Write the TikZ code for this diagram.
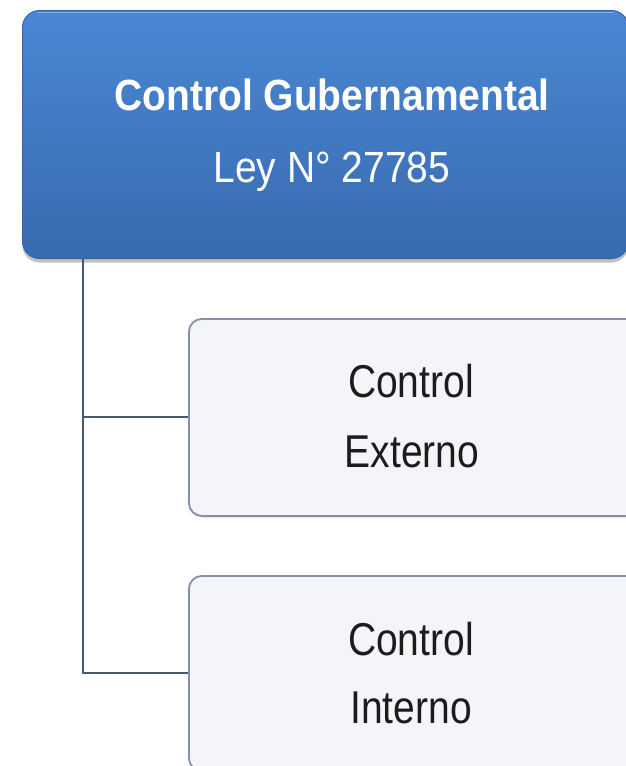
\documentclass[tikz,border=0pt]{standalone}
\usepackage{fontspec}
\setmainfont{Liberation Sans}
\usetikzlibrary{shadows}
\definecolor{govtop}{HTML}{4A88D4}
\definecolor{govbot}{HTML}{386AAE}
\definecolor{govedge}{HTML}{3766A4}
\definecolor{govrim}{HTML}{7FAEE6}
\definecolor{subfill}{HTML}{F3F5F8}
\definecolor{subedge}{HTML}{8790A6}
\definecolor{connclr}{HTML}{4A5A6E}
\definecolor{subtext}{HTML}{1C1C1C}
\newcommand{\tallA}[1]{\scalebox{1}[1.12]{#1}}
\newcommand{\tallB}[1]{\scalebox{1}[1.18]{#1}}
\begin{document}
\begin{tikzpicture}[x=1pt,y=-1pt,
  govbox/.style={rectangle, rounded corners=17pt, inner sep=0pt,
    top color=govtop, bottom color=govbot, draw=govedge, line width=1pt,
    drop shadow={shadow xshift=0pt, shadow yshift=-4pt, opacity=0.35, fill=black!70}},
  subbox/.style={rectangle, rounded corners=13pt, inner sep=0pt,
    fill=subfill, draw=subedge, line width=1.8pt,
    drop shadow={shadow xshift=0pt, shadow yshift=-2pt, opacity=0.15, fill=black!60}},
  govtxt/.style={inner sep=0pt, text=white, font=\fontsize{39}{44}\selectfont},
  subtxt/.style={inner sep=0pt, text=subtext, font=\fontsize{39}{44}\selectfont},
  conn/.style={draw=connclr, line width=2pt}]
\useasboundingbox (0,0) rectangle (626,766);
\fill[white] (0,0) rectangle (626,766);
\begin{scope}
\clip (0,0) rectangle (626,766);
% top-level box with a light rim along its upper edge
\node[govbox, anchor=north west, minimum width=606pt, minimum height=248pt] (gov) at (22,10) {};
\draw[govrim, line width=1.5pt, line cap=round] ([xshift=16pt, yshift=-2.5pt]gov.north west) -- ([xshift=-16pt, yshift=-2.5pt]gov.north east);
\node[govtxt, anchor=base] (govA) at (332,110) {\tallA{\bfseries Control Gubernamental}};
\node[govtxt, anchor=base] (govB) at (332,182) {\tallA{Ley N° 27785}};
% branches
\node[subbox, anchor=north west, minimum width=450pt, minimum height=197pt] (ext) at (188,318) {};
\node[subtxt, anchor=base] (extA) at (411,397) {\tallB{Control}};
\node[subtxt, anchor=base] (extB) at (412,467) {\tallB{Externo}};
\node[subbox, anchor=north west, minimum width=450pt, minimum height=195pt] (int) at (188,575) {};
\node[subtxt, anchor=base] (intA) at (411,655) {\tallB{Control}};
\node[subtxt, anchor=base] (intB) at (411,723) {\tallB{Interno}};
% connectors
\coordinate (trunk) at (83,258);
\draw[conn] (trunk) |- (ext.west);
\draw[conn] (trunk) |- (int.west);
\end{scope}
\end{tikzpicture}
\end{document}
